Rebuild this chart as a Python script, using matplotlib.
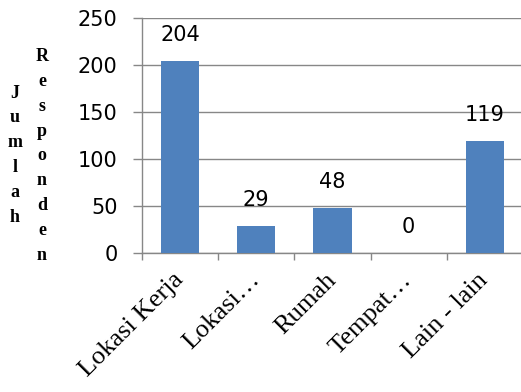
import numpy as np
from matplotlib import pyplot as plt

# data
categories = ["Lokasi Kerja", "Lokasi\u2026", "Rumah", "Tempat\u2026", "Lain - lain"]
values = [204, 29, 48, 0, 119]
y_ticks = [0, 50, 100, 150, 200, 250]

bar_color = "#4F81BD"
grid_color = "#878787"

fig = plt.figure(figsize=(5.21, 3.92), dpi=100)
ax = fig.add_axes([142 / 521, 139 / 392, 381 / 521, 235 / 392])

x = np.arange(len(categories))
ax.bar(x, values, width=0.5, color=bar_color, zorder=3)

for xi, v in zip(x, values):
    ax.annotate(str(v), (xi, v), xytext=(0, 26), textcoords="offset pixels",
                ha="center", va="center", fontsize=15, family="DejaVu Sans")

ax.set_xlim(-0.5, len(categories) - 0.5)
ax.set_ylim(0, 250)
ax.set_yticks(y_ticks)
ax.yaxis.grid(True, color=grid_color, lw=1.0, zorder=0)

ax.set_xticks(x)
ax.set_xticklabels(categories, rotation=45, rotation_mode="anchor",
                   ha="right", va="center", family="Liberation Serif", fontsize=19)
ax.set_xticks(np.arange(-0.5, len(categories)), minor=True)
ax.tick_params(axis="x", which="major", length=0, pad=17)
ax.tick_params(axis="x", which="minor", length=5, color=grid_color, width=1.0)
ax.tick_params(axis="y", length=6.5, color=grid_color, width=1.0, pad=11,
               labelsize=15)

for s in ["top", "right"]:
    ax.spines[s].set_visible(False)
for s in ["left", "bottom"]:
    ax.spines[s].set_color(grid_color)
    ax.spines[s].set_linewidth(1.0)

# stacked-letter y label, two columns
fig.text(15 / 521, 1 - 155 / 392, "\n".join("Jumlah"), ha="center", va="center",
         family="Liberation Serif", weight="bold", fontsize=13, linespacing=1.6)
fig.text(42 / 521, 1 - 156 / 392, "\n".join("Responden"), ha="center", va="center",
         family="Liberation Serif", weight="bold", fontsize=13, linespacing=1.6)

plt.savefig("out.png", dpi=100)
